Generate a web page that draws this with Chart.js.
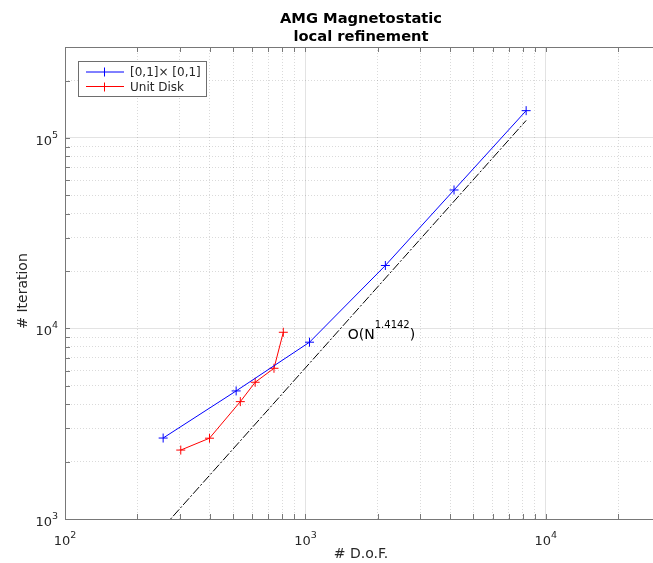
<!DOCTYPE html>
<html>
<head>
<meta charset="utf-8">
<script src="https://cdn.jsdelivr.net/npm/chart.js@4/dist/chart.umd.min.js"></script>
<style>
html,body{margin:0;padding:0;background:#fff;}
#wrap{width:653px;height:563px;position:relative;}
</style>
</head>
<body>
<div id="wrap"><canvas id="c" width="653" height="563"></canvas></div>
<script>
// ---- data ----
const titleLines = ['AMG Magnetostatic', 'local refinement'];
const xLabel = '# D.o.F.';
const yLabel = '# Iteration';

const squareName = '[0,1]\u00d7 [0,1]';
const squareDof = [256, 515, 1040, 2150, 4150, 8280];
const squareIter = [2660, 4700, 8470, 21400, 53300, 139000];

const diskName = 'Unit Disk';
const diskDof = [303, 399, 536, 618, 740, 809];
const diskIter = [2300, 2655, 4130, 5220, 6180, 9550];

const refDof = [256, 8280];
const refIter = [904, 123500];
const refLabelBase = 'O(N';
const refLabelExp = '1.4142';
const refLabelEnd = ')';
const refLabelAt = [1500, 8810];

const xMin = 100, xMax = 27900;
const yMin = 1000, yMax = 300000;
const xTickValues = [100, 1000, 10000];
const xTickExps = ['2', '3', '4'];
const yTickValues = [1000, 10000, 100000];
const yTickExps = ['3', '4', '5'];
const minorMultiples = [1, 2, 3, 4, 5, 6, 7, 8, 9];

// ---- helpers ----
const FONT = '"DejaVu Sans", "Liberation Sans", sans-serif';
function pts(xs, ys) { return xs.map((x, i) => ({x: x, y: ys[i]})); }
function isDecade(v) { const l = Math.log10(v); return Math.abs(l - Math.round(l)) < 1e-9; }
function logTicks(min, max) {
  const out = [];
  const e0 = Math.floor(Math.log10(min)), e1 = Math.ceil(Math.log10(max));
  for (let e = e0; e <= e1; e++) {
    for (const m of minorMultiples) {
      const v = m * Math.pow(10, e);
      if (v >= min * (1 - 1e-9) && v <= max * (1 + 1e-9)) out.push(v);
    }
  }
  return out;
}
const gridColor = c => (c.tick && isDecade(c.tick.value)) ? 'rgba(38,38,38,0.13)' : 'rgba(38,38,38,0.17)';
const gridDash = c => (c.tick && !isDecade(c.tick.value)) ? [1, 2] : [];

function drawSup(ctx, base, sup, x, y, align, size, supSize, rise, color) {
  ctx.save();
  ctx.fillStyle = color;
  ctx.textBaseline = 'alphabetic';
  ctx.textAlign = 'left';
  ctx.font = size + 'px ' + FONT;
  const wb = ctx.measureText(base).width;
  ctx.font = supSize + 'px ' + FONT;
  const ws = ctx.measureText(sup).width;
  let x0 = x;
  if (align === 'center') x0 = x - (wb + ws) / 2;
  else if (align === 'right') x0 = x - (wb + ws);
  ctx.font = size + 'px ' + FONT;
  ctx.fillText(base, x0, y);
  ctx.font = supSize + 'px ' + FONT;
  ctx.fillText(sup, x0 + wb, y - rise);
  ctx.restore();
  return x0 + wb + ws;
}

const decor = {
  id: 'decor',
  afterDatasetsDraw(chart) {
    const ctx = chart.ctx, a = chart.chartArea;
    const xs = chart.scales.x, ys = chart.scales.y;
    const axisCol = 'rgb(120,120,120)';
    ctx.save();
    ctx.strokeStyle = axisCol;
    ctx.lineWidth = 1;
    ctx.beginPath();
    ctx.moveTo(a.left + 0.5, a.top); ctx.lineTo(a.left + 0.5, a.bottom);
    ctx.moveTo(a.left, a.bottom + 0.5); ctx.lineTo(a.right, a.bottom + 0.5);
    ctx.moveTo(a.left, a.top + 0.5); ctx.lineTo(a.right, a.top + 0.5);
    ctx.stroke();
    const tl = 5;
    ctx.beginPath();
    for (const t of xs.ticks) {
      const px = Math.round(xs.getPixelForValue(t.value)) + 0.5;
      ctx.moveTo(px, a.bottom); ctx.lineTo(px, a.bottom - tl);
      ctx.moveTo(px, a.top); ctx.lineTo(px, a.top + tl);
    }
    for (const t of ys.ticks) {
      const py = Math.round(ys.getPixelForValue(t.value)) + 0.5;
      ctx.moveTo(a.left, py); ctx.lineTo(a.left + tl, py);
    }
    ctx.stroke();
    ctx.restore();
  },
  afterDraw(chart) {
    const ctx = chart.ctx;
    const xs = chart.scales.x, ys = chart.scales.y;
    const txt = 'rgb(38,38,38)';
    xTickValues.forEach((v, i) => {
      const px = xs.getPixelForValue(v);
      drawSup(ctx, '10', xTickExps[i], px, 545, 'center', 13, 9.5, 7, txt);
    });
    yTickValues.forEach((v, i) => {
      const py = ys.getPixelForValue(v);
      drawSup(ctx, '10', yTickExps[i], 58, py + 7, 'right', 13, 9.5, 7, txt);
    });
    ctx.save();
    ctx.fillStyle = txt;
    ctx.font = '14px ' + FONT;
    ctx.textAlign = 'center';
    ctx.textBaseline = 'alphabetic';
    ctx.fillText(xLabel, 361, 558);
    ctx.save();
    ctx.translate(27, 291);
    ctx.rotate(-Math.PI / 2);
    ctx.fillText(yLabel, 0, 0);
    ctx.restore();
    ctx.fillStyle = '#000';
    ctx.font = 'bold 14.7px ' + FONT;
    ctx.fillText(titleLines[0], 361, 23);
    ctx.fillText(titleLines[1], 361, 41);
    ctx.restore();
    const ax = xs.getPixelForValue(refLabelAt[0]);
    const ay = ys.getPixelForValue(refLabelAt[1]);
    ctx.save();
    ctx.font = '14px ' + FONT;
    ctx.fillStyle = '#000';
    ctx.textAlign = 'left';
    ctx.fillText(refLabelBase, ax, ay);
    const w1 = ctx.measureText(refLabelBase).width;
    ctx.font = '10px ' + FONT;
    ctx.fillText(refLabelExp, ax + w1, ay - 11);
    const w2 = ctx.measureText(refLabelExp).width;
    ctx.font = '14px ' + FONT;
    ctx.fillText(refLabelEnd, ax + w1 + w2, ay);
    ctx.restore();
    ctx.save();
    const lx = 78, ly = 61, lw = 128, lh = 35;
    ctx.fillStyle = '#fff';
    ctx.fillRect(lx, ly, lw, lh);
    ctx.strokeStyle = 'rgb(110,110,110)';
    ctx.lineWidth = 1;
    ctx.strokeRect(lx + 0.5, ly + 0.5, lw, lh);
    const rows = [
      {ds: chart.data.datasets[0], y: 72, name: squareName},
      {ds: chart.data.datasets[1], y: 86.5, name: diskName}
    ];
    rows.forEach(r => {
      ctx.strokeStyle = r.ds.borderColor;
      ctx.lineWidth = 1;
      ctx.beginPath();
      ctx.moveTo(86, r.y); ctx.lineTo(124, r.y);
      ctx.moveTo(104.5, Math.round(r.y) - 4.5); ctx.lineTo(104.5, Math.round(r.y) + 4.5);
      ctx.stroke();
      ctx.fillStyle = 'rgb(38,38,38)';
      ctx.font = '12px ' + FONT;
      ctx.textAlign = 'left';
      ctx.textBaseline = 'middle';
      ctx.fillText(r.name, 130, Math.round(r.y) + 0.5);
    });
    ctx.restore();
  }
};

new Chart(document.getElementById('c'), {
  type: 'line',
  data: {
    datasets: [
      {label: squareName, data: pts(squareDof, squareIter), borderColor: '#0000ff', backgroundColor: '#0000ff',
       borderWidth: 1, pointStyle: 'cross', pointRadius: 4.5, pointBorderWidth: 1, pointBorderColor: '#0000ff', tension: 0},
      {label: diskName, data: pts(diskDof, diskIter), borderColor: '#ff0000', backgroundColor: '#ff0000',
       borderWidth: 1, pointStyle: 'cross', pointRadius: 4.5, pointBorderWidth: 1, pointBorderColor: '#ff0000', tension: 0},
      {label: 'ref', data: pts(refDof, refIter), borderColor: '#000000', borderWidth: 1,
       borderDash: [9, 2, 2, 2], pointRadius: 0, tension: 0}
    ]
  },
  options: {
    responsive: false,
    animation: false,
    devicePixelRatio: 1,
    layout: {autoPadding: false, padding: {top: 47, right: 0, left: 0, bottom: 0}},
    plugins: {legend: {display: false}, title: {display: false}, tooltip: {enabled: false}},
    scales: {
      x: {
        type: 'logarithmic', min: xMin, max: xMax,
        afterBuildTicks: s => { s.ticks = logTicks(s.min, s.max).map(v => ({value: v})); },
        afterFit: s => { s.height = 44; },
        ticks: {display: false},
        grid: {color: gridColor, lineWidth: 1, drawTicks: false},
        border: {display: false, dash: gridDash}
      },
      y: {
        type: 'logarithmic', min: yMin, max: yMax,
        afterBuildTicks: s => { s.ticks = logTicks(s.min, s.max).map(v => ({value: v})); },
        afterFit: s => { s.width = 65; },
        ticks: {display: false},
        grid: {color: gridColor, lineWidth: 1, drawTicks: false},
        border: {display: false, dash: gridDash}
      }
    }
  },
  plugins: [decor]
});
</script>
</body>
</html>
